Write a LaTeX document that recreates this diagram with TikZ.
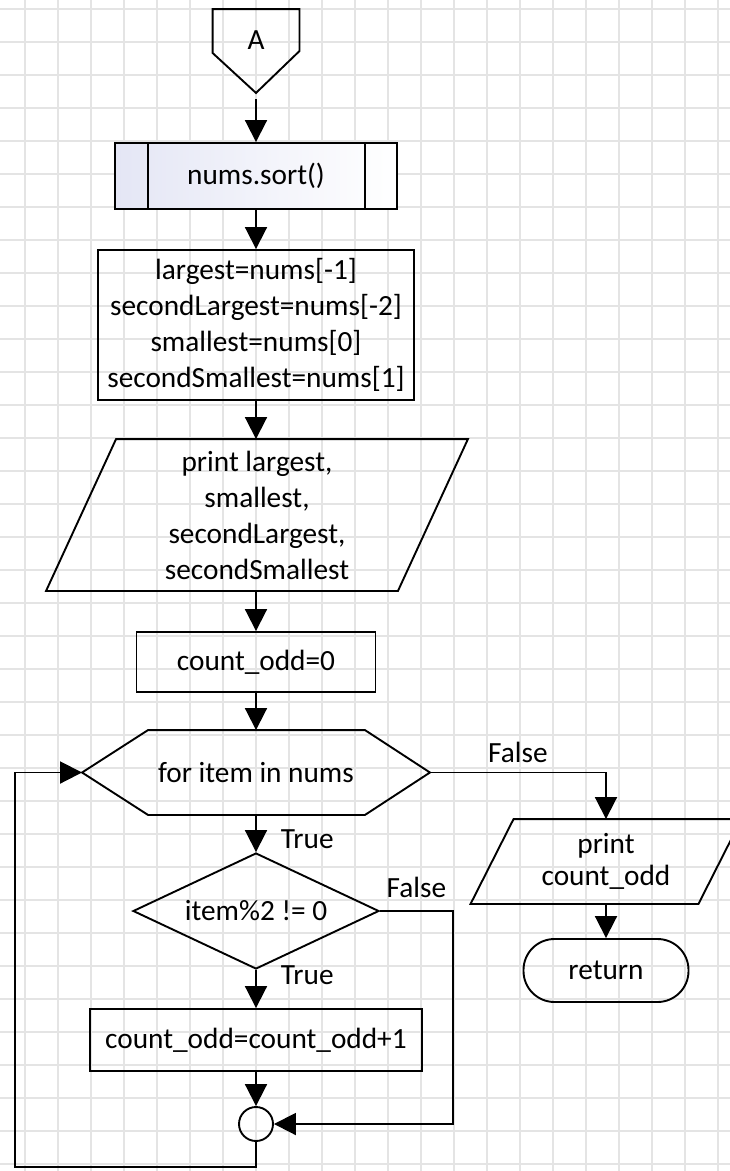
\documentclass[tikz,border=0pt]{standalone}
\usepackage{fontspec}
\setmainfont{Carlito}
\usepackage{tikz}
\usetikzlibrary{shapes.geometric, arrows.meta, positioning, calc}

\definecolor{gridgray}{RGB}{228,228,228}
\definecolor{procblue}{RGB}{228,230,245}

\begin{document}
\begin{tikzpicture}[x=1pt, y=-1pt, line width=1.9pt,
  font=\fontsize{29.3}{36}\selectfont,
  flow/.style={-{Triangle[length=22pt, width=22pt]}},
  procbox/.style={draw, rectangle, align=center, inner sep=0pt},
  iobox/.style={rectangle, align=center, inner sep=0pt},
  lbl/.style={inner sep=0pt}]
\useasboundingbox (0,0) rectangle (730,1171);

% Grid paper
\foreach \gx in {0,...,21}
  \draw[gridgray, line width=1.2pt] ({25+33*\gx},0) -- ({25+33*\gx},1171);
\foreach \gy in {0,...,35}
  \draw[gridgray, line width=1.2pt] (0,{9+33*\gy}) -- (730,{9+33*\gy});

% Off-page connector
\node[inner sep=0pt, minimum width=85, minimum height=60] (conA) at (256,40) {A};
\draw (conA.north west) -- (conA.north east) -- ++(0,42) -- ($(conA.south)+(0,22)$)
  -- ($(conA.south west)+(0,-18)$) -- cycle;
\coordinate (conAtip) at (256,99);

% Main column
\node[procbox, minimum width=282, minimum height=66, left color=procblue, right color=white] (sortbox) at (256,176) {nums.sort()};
\draw ([xshift=34]sortbox.north west) -- ([xshift=34]sortbox.south west);
\draw ([xshift=-33]sortbox.north east) -- ([xshift=-33]sortbox.south east);

\node[procbox, minimum width=316, minimum height=150] (initbox) at (256,325)
  {largest=nums[-1]\\secondLargest=nums[-2]\\smallest=nums[0]\\secondSmallest=nums[1]};

\node[iobox, minimum width=350, minimum height=150] (printio) at (257,515)
  {print largest,\\smallest,\\secondLargest,\\secondSmallest};
\draw ([xshift=35]printio.north west) -- ([xshift=35]printio.north east)
  -- ([xshift=-35]printio.south east) -- ([xshift=-35]printio.south west) -- cycle;

\node[procbox, minimum width=239, minimum height=60] (zerobox) at (256,662) {count\_odd=0};

% Loop header (hexagon)
\node[inner sep=0pt, minimum width=346, minimum height=83] (forloop) at (256,772.5) {for item in nums};
\draw (forloop.west) -- ([xshift=66]forloop.north west) -- ([xshift=-65]forloop.north east)
  -- (forloop.east) -- ([xshift=-65]forloop.south east) -- ([xshift=66]forloop.south west) -- cycle;

\node[draw, diamond, aspect=2.12, inner sep=0pt, minimum width=246, minimum height=116] (oddtest) at (256,911) {item\%2 != 0};

\node[procbox, minimum width=332, minimum height=62] (incbox) at (256,1040) {count\_odd=count\_odd+1};

\node[draw, circle, inner sep=0pt, minimum size=34] (joinpt) at (256,1124) {};

% Right branch
\node[iobox, minimum width=226, minimum height=83,
  font=\fontsize{29.3}{32}\selectfont] (printcount) at (606,861.5) {print\\count\_odd};
\draw ([xshift=21.5]printcount.north west) -- ([xshift=21.5]printcount.north east)
  -- ([xshift=-21.5]printcount.south east) -- ([xshift=-21.5]printcount.south west) -- cycle;
\node[procbox, rounded corners=31pt, minimum width=165, minimum height=63] (retnode) at (606,970.5) {return};

\coordinate (skipright) at (453,1124);
\coordinate (loopleft) at (15,1167);

% Connectors
\draw[flow] (conAtip) -- (sortbox);
\draw[flow] (sortbox) -- (initbox);
\draw[flow] (initbox) -- (initbox |- printio.north);
\draw[flow] (zerobox |- printio.south) -- (zerobox);
\draw[flow] (zerobox) -- (forloop);
\draw[flow] (forloop) -- node[lbl, pos=0.65, anchor=west, xshift=24pt] {True} (oddtest);
\draw[flow] (oddtest) -- node[lbl, pos=0.15, anchor=west, xshift=24pt] {True} (incbox);
\draw[flow] (incbox) -- (joinpt);
\draw[flow] (oddtest.east) -| node[lbl, pos=0.25, above=12pt] {False} (skipright) -- (joinpt);
\draw[flow] (joinpt) |- (loopleft) |- (forloop.west);
\draw[flow] (forloop.east) -| node[lbl, pos=0.25, above=9pt] {False} (printcount);
\draw[flow] (printcount) -- (retnode);
\end{tikzpicture}
\end{document}
